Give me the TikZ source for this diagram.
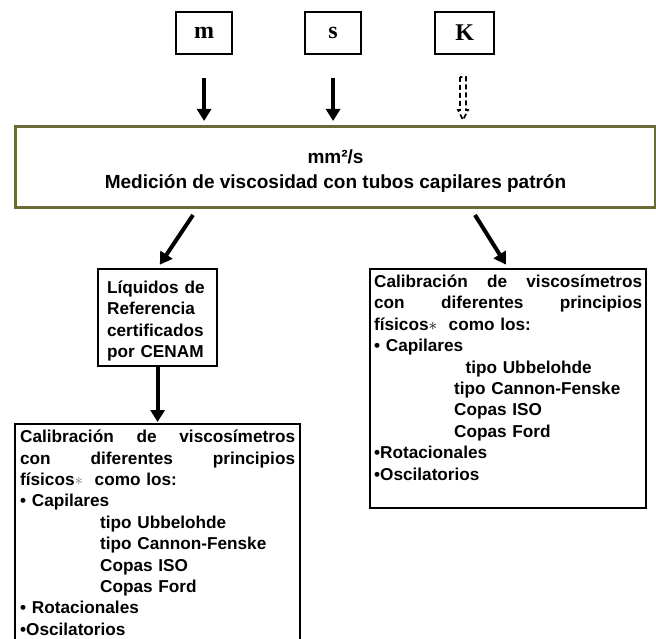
\documentclass[tikz,border=0pt]{standalone}
\usepackage{fontspec}
\setmainfont{Liberation Sans}
\newfontfamily\serifb{Liberation Serif}
\usetikzlibrary{arrows.meta}
\definecolor{olive}{HTML}{6B6B38}
\tikzset{
  unitbox/.style={draw=black, line width=2.2pt, anchor=north west, font=\serifb\bfseries\fontsize{24}{26}\selectfont, inner sep=0pt},
  txtbox/.style={draw=black, line width=2.2pt, anchor=north west, font=\bfseries\fontsize{17.2}{21.4}\selectfont, align=left, inner sep=0pt},
  bigarrow/.style={line width=4pt, -{Triangle[width=14pt,length=12pt]}},
}
\newcommand{\ind}{\hspace*{80pt}}
\begin{document}
\begin{tikzpicture}[x=1pt,y=-1pt]
\useasboundingbox (0,0) rectangle (656,639);
% unit boxes
\node[unitbox, minimum width=56pt, minimum height=42pt] (m) at (175,11) {m};
\node[unitbox, minimum width=56pt, minimum height=42pt] (s) at (304,11) {s};
\node[unitbox, minimum width=59pt, minimum height=42pt] (K) at (434,11) {K};
% main box
\node[draw=olive, line width=3pt, anchor=north west, minimum width=640pt, minimum height=81pt, inner sep=0pt, align=center, font=\bfseries\fontsize{19}{25}\selectfont] (main) at (14,125) {\rule{0pt}{21pt}mm²/s\\Medición de viscosidad con tubos capilares patrón};
% arrows from unit boxes
\draw[bigarrow, shorten <=23pt, shorten >=4pt] (m.south) -- (m.south |- main.north);
\draw[bigarrow, shorten <=23pt, shorten >=4pt] (s.south) -- (s.south |- main.north);
% dashed hollow arrow for K
\coordinate (kt) at (463,77);
\draw[line width=1.6pt, dash pattern=on 5pt off 3pt] ([xshift=-3pt]kt) -- ++(0,33) -- ++(-2,0) -- (463,120) -- (468,110) -- ++(-2,0) -- ([xshift=3pt]kt) -- cycle;
% Liquidos box
\node[txtbox, text width=101pt, minimum height=97pt, inner xsep=9pt, inner ysep=3pt] (liq) at (97,268) {\rule{0pt}{19pt}Líquidos de\\Referencia\\certificados\\por CENAM};
% right calibration box
\node[txtbox, text width=268pt, inner xsep=4pt, inner ysep=5.8pt, anchor=north west, align=left] (cal2) at (369,268) {%
Calibración\hfill de\hfill viscosímetros\\
con\hfill diferentes\hfill principios\\
físicos$\ast$\ \ como los:\\
• Capilares\\
\ind\ \ tipo Ubbelohde\\
\ind tipo Cannon-Fenske\\
\ind Copas ISO\\
\ind Copas Ford\\
•Rotacionales\\
•Oscilatorios\rule[-22pt]{0pt}{22pt}};
% left calibration box
\node[txtbox, text width=275pt, inner xsep=5pt, inner ysep=6pt, align=left] (cal1) at (14,423) {%
Calibración\hfill de\hfill viscosímetros\\
con\hfill diferentes\hfill principios\\
físicos{\color{gray}$\ast$}\ \ como los:\\
• Capilares\\
\ind tipo Ubbelohde\\
\ind tipo Cannon-Fenske\\
\ind Copas ISO\\
\ind Copas Ford\\
• Rotacionales\\
•Oscilatorios\rule[-12pt]{0pt}{12pt}};
% diagonal arrows
\coordinate (a1) at (193,215);
\coordinate (a2) at (475,215);
\draw[bigarrow, shorten >=4pt] (a1) -- (liq.north);
\draw[bigarrow, shorten >=4pt] (a2) -- (cal2.north);
\draw[bigarrow, shorten >=1pt] (liq.south) -- (liq.south |- cal1.north);
\end{tikzpicture}
\end{document}
